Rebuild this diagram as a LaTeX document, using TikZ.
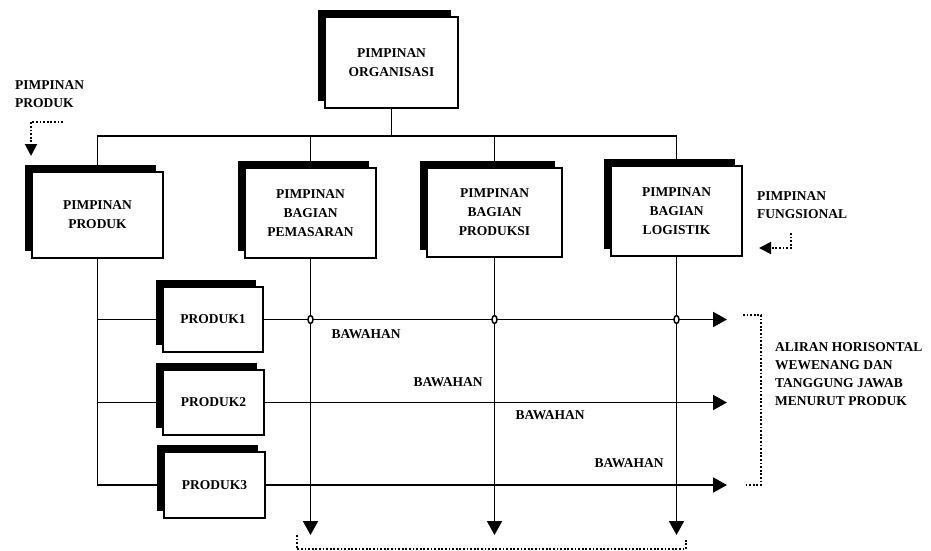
\documentclass[tikz,border=0pt]{standalone}
\usepackage{fontspec}
\setmainfont{Liberation Serif}
\usetikzlibrary{arrows.meta,shadows,shapes.geometric}
\begin{document}
\begin{tikzpicture}[x=1pt,y=-1pt,
 box/.style={draw, line width=1.8pt, fill=white, align=center, inner sep=0pt,
   font=\bfseries\fontsize{13.5}{19}\selectfont,
   general shadow={fill=black, shadow xshift=-7pt, shadow yshift=7pt}},
 lbl/.style={font=\bfseries\fontsize{13.5}{18}\selectfont, align=left, inner sep=0pt, anchor=north west},
 bw/.style={font=\bfseries\fontsize{13.5}{15}\selectfont, inner sep=0pt},
 ln/.style={line width=1.9pt},
 arr/.style={line width=1.9pt, -{Triangle[length=14pt,width=15pt]}},
 dots/.style={line width=2pt, dash pattern=on 1.8pt off 1.8pt},
 darr/.style={dots, -{Triangle[length=12pt,width=12pt]}},
 jump/.style={ellipse, draw, line width=1.5pt, fill=white, minimum width=5pt, minimum height=8pt, inner sep=0pt}
]
\useasboundingbox (0,0) rectangle (931,551);

% boxes
\node[box, minimum width=133pt, minimum height=91pt] (org) at (391.5,62.5) {PIMPINAN\\ORGANISASI};
\node[box, minimum width=131pt, minimum height=86pt] (prod) at (97.5,215) {PIMPINAN\\PRODUK};
\node[box, minimum width=131pt, minimum height=90pt] (pem) at (310.5,213) {PIMPINAN\\BAGIAN\\PEMASARAN};
\node[box, minimum width=135pt, minimum height=89pt] (pdk) at (494.5,212.5) {PIMPINAN\\BAGIAN\\PRODUKSI};
\node[box, minimum width=131pt, minimum height=90pt] (log) at (676.5,211) {PIMPINAN\\BAGIAN\\LOGISTIK};
\node[box, minimum width=100pt, minimum height=65pt] (p1) at (213,319.5) {PRODUK1};
\node[box, minimum width=101pt, minimum height=65pt] (p2) at (213.5,402.5) {PRODUK2};
\node[box, minimum width=101pt, minimum height=66pt] (p3) at (214.5,485) {PRODUK3};

% helper coordinates
\coordinate (bus) at (0,136);
\coordinate (rt) at (727,0);
\coordinate (bot) at (0,535);

% tree
\draw[ln] (org.south) -- (org.south |- bus);
\draw[ln] (prod.north) -- (prod.north |- bus) -- (log.north |- bus) -- (log.north);
\draw[ln] (pem.north) -- (pem.north |- bus);
\draw[ln] (pdk.north) -- (pdk.north |- bus);

% product branch
\draw[ln] (prod.south) -- (prod.south |- p3.west) -- (p3.west);
\draw[ln] (prod.south |- p1.west) -- (p1.west);
\draw[ln] (prod.south |- p2.west) -- (p2.west);

% horizontal flows
\draw[arr] (p1.east) -- (p1.east -| rt);
\draw[arr] (p2.east) -- (p2.east -| rt);
\draw[arr] (p3.east) -- (p3.east -| rt);

% vertical flows
\draw[arr] (pem.south) -- (pem.south |- bot);
\draw[arr] (pdk.south) -- (pdk.south |- bot);
\draw[arr] (log.south) -- (log.south |- bot);

% jumpers
\node[jump] (j1) at (pem.south |- p1.east) {};
\node[jump] (j2) at (pdk.south |- p1.east) {};
\node[jump] (j3) at (log.south |- p1.east) {};

% labels
\node[lbl] (lpp) at (15,80) {PIMPINAN\\PRODUK};
\node[lbl] (lpf) at (757,191) {PIMPINAN\\FUNGSIONAL};
\node[lbl] (lal) at (775,342) {ALIRAN HORISONTAL\\WEWENANG DAN\\TANGGUNG JAWAB\\MENURUT PRODUK};

\node[bw] (b1) at (366,334) {BAWAHAN};
\node[bw] (b2) at (448,382) {BAWAHAN};
\node[bw] (b3) at (550,415) {BAWAHAN};
\node[bw] (b4) at (629,463) {BAWAHAN};

% dotted pointers
\coordinate (pps) at (63,122);
\coordinate (ppt) at (31,156);
\draw[darr] (pps) -| (ppt);
\coordinate (pfs) at (791,233);
\coordinate (pft) at (759,248);
\draw[darr] (pfs) |- (pft);

% dotted brackets
\coordinate (rb1) at (743,315);
\coordinate (rb2) at (761,485);
\coordinate (rb3) at (745,485);
\draw[dots] (rb1) -| (rb2) -- (rb3);
\coordinate (bb1) at (297,535);
\coordinate (bb2) at (686,549);
\coordinate (bb3) at (686,540);
\draw[dots] (bb1) |- (bb2) -- (bb3);
\end{tikzpicture}
\end{document}
